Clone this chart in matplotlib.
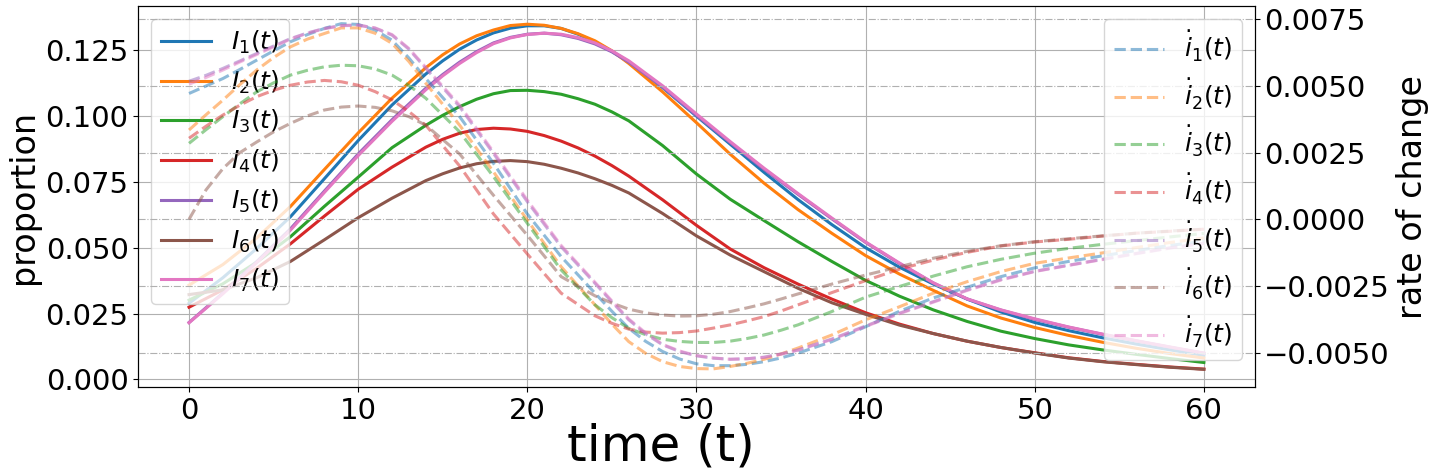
import matplotlib
matplotlib.use("Agg")
import matplotlib.pyplot as plt

# sample times (finer where the curves bend most)
t_prop = [0, 2, 4, 6, 8, 10, 12, 14,
          15, 16, 17, 18, 19, 20, 21, 22, 23, 24, 25,
          26, 28, 30, 32, 34, 36, 38, 40, 42, 44, 46, 48, 50, 52, 54, 56, 58, 60]
t_rate = [0, 1, 2, 3, 4, 5, 6, 7, 8, 9, 10, 11, 12, 13, 14,
          16, 18, 20, 22, 24,
          25, 26, 27, 28, 29, 30, 31, 32, 33, 34, 35,
          36, 38, 40, 42, 44, 46, 48, 50, 52, 54, 56, 58, 60]

# proportion infected per group (left axis)
I1 = [.0289, .0386, .0497, .0618, .0762, .0907, .1042, .1160,
      .1210, .1254, .1289, .1316, .1334, .1343, .1343, .1333, .1311, .1282, .1246,
      .1206, .1108, .1000, .0893, .0786, .0683, .0588, .0500, .0426, .0362, .0305,
      .0256, .0216, .0185, .0158, .0134, .0112, .0091]
I2 = [.0358, .0436, .0537, .0657, .0797, .0936, .1068, .1184,
      .1233, .1274, .1305, .1327, .1344, .1349, .1345, .1333, .1313, .1286, .1248,
      .1200, .1092, .0975, .0855, .0745, .0645, .0555, .0470, .0400, .0338, .0279,
      .0233, .0197, .0167, .0141, .0118, .0098, .0081]
I3 = [.0301, .0363, .0445, .0542, .0657, .0768, .0880, .0965,
      .1003, .1036, .1064, .1085, .1097, .1098, .1093, .1083, .1066, .1045, .1016,
      .0982, .0888, .0780, .0684, .0603, .0523, .0448, .0376, .0316, .0264, .0220,
      .0183, .0155, .0131, .0112, .0095, .0079, .0064]
I4 = [.0274, .0340, .0422, .0515, .0620, .0722, .0806, .0882,
      .0912, .0935, .0949, .0954, .0951, .0942, .0926, .0905, .0879, .0848, .0812,
      .0772, .0682, .0585, .0495, .0424, .0362, .0305, .0253, .0210, .0174, .0145,
      .0121, .0101, .0082, .0068, .0057, .0047, .0039]
I5 = [.0216, .0328, .0447, .0572, .0715, .0856, .0986, .1106,
      .1158, .1205, .1245, .1278, .1299, .1311, .1315, .1309, .1295, .1274, .1244,
      .1205, .1110, .1003, .0899, .0798, .0703, .0610, .0520, .0440, .0366, .0305,
      .0263, .0228, .0198, .0171, .0146, .0122, .0099]
I6 = [.0322, .0340, .0386, .0448, .0530, .0614, .0688, .0755,
      .0781, .0803, .0819, .0828, .0831, .0827, .0817, .0802, .0784, .0762, .0737,
      .0708, .0630, .0545, .0472, .0409, .0346, .0291, .0247, .0206, .0174, .0145,
      .0121, .0100, .0081, .0067, .0056, .0046, .0038]
I7 = [.0215, .0325, .0443, .0567, .0710, .0850, .0980, .1100,
      .1153, .1200, .1241, .1275, .1297, .1310, .1315, .1311, .1298, .1278, .1248,
      .1210, .1115, .1008, .0903, .0802, .0706, .0613, .0522, .0442, .0367, .0306,
      .0264, .0230, .0199, .0172, .0147, .0123, .0100]

# rate of change per group (right axis)
d1 = [.00472, .00500, .00528, .00562, .00597, .00632, .00666, .00693, .00716, .00734,
      .00731, .00710, .00672, .00605, .00528,
      .00385, .00210, .00020, -.00140, -.00277,
      -.00345, -.00409, -.00458, -.00496, -.00524, -.00542, -.00549, -.00549, -.00544,
      -.00534, -.00520,
      -.00502, -.00459, -.00403, -.00345, -.00295, -.00255, -.00215, -.00182, -.00158,
      -.00137, -.00117, -.00098, -.00082]
d2 = [.00335, .00392, .00447, .00505, .00560, .00607, .00647, .00676, .00697, .00718,
      .00718, .00698, .00660, .00592, .00510,
      .00353, .00178, -.00003, -.00178, -.00321,
      -.00393, -.00459, -.00503, -.00534, -.00552, -.00560, -.00561, -.00552, -.00540,
      -.00525, -.00505,
      -.00483, -.00434, -.00377, -.00328, -.00277, -.00234, -.00196, -.00165, -.00145,
      -.00126, -.00106, -.00087, -.00070]
d3 = [.00285, .00336, .00385, .00433, .00478, .00512, .00541, .00559, .00572, .00578,
      .00576, .00564, .00541, .00502, .00454,
      .00328, .00160, -.00015, -.00190, -.00321,
      -.00369, -.00409, -.00433, -.00450, -.00458, -.00462, -.00462, -.00457, -.00447,
      -.00434, -.00416,
      -.00396, -.00346, -.00292, -.00252, -.00213, -.00178, -.00150, -.00127, -.00109,
      -.00094, -.00080, -.00066, -.00053]
d4 = [.00304, .00349, .00391, .00428, .00460, .00484, .00503, .00515, .00521, .00516,
      .00503, .00479, .00448, .00404, .00353,
      .00200, .00020, -.00130, -.00277, -.00362,
      -.00390, -.00412, -.00423, -.00427, -.00425, -.00419, -.00408, -.00396, -.00381,
      -.00365, -.00344,
      -.00321, -.00275, -.00230, -.00187, -.00153, -.00124, -.00100, -.00085, -.00075,
      -.00063, -.00052, -.00045, -.00037]
d5 = [.00518, .00540, .00566, .00594, .00622, .00650, .00678, .00699, .00716, .00727,
      .00729, .00717, .00691, .00638, .00566,
      .00422, .00247, .00066, -.00103, -.00240,
      -.00310, -.00377, -.00430, -.00471, -.00496, -.00512, -.00521, -.00525, -.00523,
      -.00517, -.00505,
      -.00490, -.00449, -.00400, -.00352, -.00309, -.00265, -.00226, -.00195, -.00172,
      -.00150, -.00128, -.00107, -.00090]
d6 = [.00000, .00110, .00190, .00250, .00290, .00328, .00360, .00388, .00410, .00421,
      .00425, .00420, .00407, .00385, .00353,
      .00245, .00090, -.00060, -.00215, -.00287,
      -.00314, -.00337, -.00351, -.00359, -.00363, -.00362, -.00356, -.00346, -.00332,
      -.00317, -.00299,
      -.00280, -.00243, -.00209, -.00178, -.00146, -.00120, -.00099, -.00084, -.00073,
      -.00062, -.00052, -.00044, -.00037]
d7 = [.00507, .00532, .00560, .00590, .00618, .00647, .00676, .00698, .00715, .00726,
      .00728, .00718, .00693, .00641, .00570,
      .00428, .00253, .00072, -.00098, -.00236,
      -.00306, -.00374, -.00426, -.00469, -.00494, -.00511, -.00520, -.00525, -.00523,
      -.00518, -.00506,
      -.00491, -.00451, -.00402, -.00354, -.00311, -.00267, -.00228, -.00196, -.00173,
      -.00151, -.00129, -.00108, -.00091]

infected = [I1, I2, I3, I4, I5, I6, I7]
rates = [d1, d2, d3, d4, d5, d6, d7]
colors = ["C0", "C1", "C2", "C3", "C4", "C5", "C6"]

fig, ax = plt.subplots(figsize=(14.36, 4.68), dpi=100)
fig.subplots_adjust(left=0.0963, right=0.8737, top=0.9865, bottom=0.1731)
ax2 = ax.twinx()

for k, (vals, c) in enumerate(zip(infected, colors)):
    ax.plot(t_prop, vals, color=c, lw=2.2, label=rf"$I_{{{k + 1}}}(t)$")

for k, (vals, c) in enumerate(zip(rates, colors)):
    ax2.plot(t_rate, vals, color=c, lw=2.2, ls="--", alpha=0.5,
             label=rf"$\dot{{i}}_{{{k + 1}}}(t)$")

ax.set_xlim(-3, 63)
ax.set_ylim(-0.0029, 0.1417)
ax2.set_ylim(-0.00629, 0.00799)
ax.set_yticks([0.0, 0.025, 0.05, 0.075, 0.1, 0.125])
ax2.set_yticks([-0.005, -0.0025, 0.0, 0.0025, 0.005, 0.0075])

ax.grid(True, color="#b0b0b0", lw=0.8)
ax2.grid(True, axis="y", ls="-.", color="#b0b0b0", lw=0.8)

ax.tick_params(labelsize=21)
ax2.tick_params(labelsize=21)
ax.set_xlabel("time (t)", fontsize=36)
ax.xaxis.set_label_coords(0.468, -0.092)
ax.set_ylabel("proportion", fontsize=24)
ax2.set_ylabel("rate of change", fontsize=24)

ax.legend(loc="upper left", fontsize=18)
ax2.legend(loc="upper right", fontsize=18)

fig.savefig("out.png", dpi=100)
